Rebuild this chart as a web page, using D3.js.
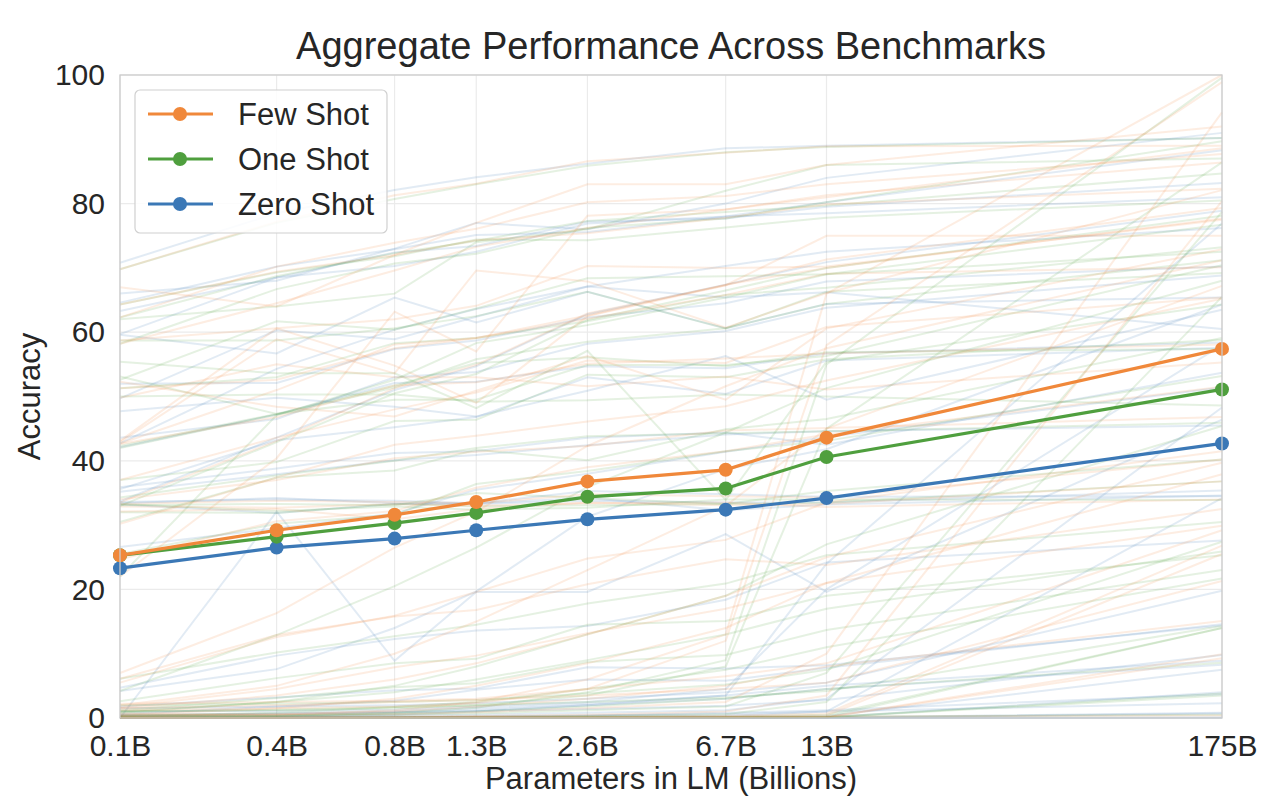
<!DOCTYPE html>
<html>
<head>
<meta charset="utf-8">
<script src="https://cdn.jsdelivr.net/npm/d3@7"></script>
<style>
 body { margin:0; background:#fff; }
 svg text { font-family: "Liberation Sans", Arial, sans-serif; fill:#262626; }
</style>
</head>
<body>
<div id="chart"></div>
<script>
// model sizes (billions) and their tick labels
var paramsB = [0.125, 0.35, 0.76, 1.3, 2.7, 6.7, 13, 175];
var tickLabels = ["0.1B","0.4B","0.8B","1.3B","2.6B","6.7B","13B","175B"];
var yTicks = [0, 20, 40, 60, 80, 100];

// aggregate lines
var fewShotAvg  = [25.3, 29.2, 31.6, 33.6, 36.8, 38.6, 43.6, 57.4];
var oneShotAvg  = [25.3, 28.2, 30.3, 31.9, 34.4, 35.7, 40.6, 51.1];
var zeroShotAvg = [23.3, 26.5, 27.9, 29.2, 30.9, 32.4, 34.2, 42.7];

// per benchmark lines (faint)
var zeroShotTasks = [
 [33.7,43.6,51.0,54.7,62.8,67.4,70.9,78.9],
 [42.7,54.3,60.4,63.6,67.1,70.3,72.5,76.2],
 [63.3,68.5,72.4,73.4,77.2,77.7,79.5,83.2],
 [0.6,1.8,2.7,4.4,6.0,5.8,7.8,14.6],
 [1.8,3.2,4.3,4.6,7.9,7.7,8.2,14.4],
 [4.2,7.6,14.0,19.7,31.3,38.7,41.8,64.3],
 [64.6,70.2,72.9,75.1,75.6,78.0,78.5,81.0],
 [26.6,29.5,31.8,35.5,38.0,41.4,43.7,51.4],
 [43.6,46.5,53.0,53.8,58.2,60.2,63.8,68.8],
 [35.6,43.2,45.2,46.8,53.0,50.4,55.6,57.6],
 [59.7,68.5,70.3,72.5,76.9,78.0,80.2,88.3],
 [52.0,52.1,57.4,58.7,62.3,64.5,67.9,70.2],
 [35.2,37.9,40.1,40.9,42.4,44.1,44.6,45.5],
 [42.1,47.2,52.1,52.3,54.7,54.4,56.7,58.4],
 [49.7,60.3,58.9,62.4,67.1,65.4,66.2,60.5],
 [0.0,32.1,8.9,19.6,19.6,28.6,19.6,46.4],
 [66.0,68.0,73.0,77.0,76.0,80.0,84.0,91.0],
 [47.7,49.8,48.4,46.9,50.9,56.3,49.5,63.5],
 [0.0,0.0,0.0,0.0,0.0,0.0,0.0,0.0],
 [59.6,56.7,65.4,61.5,66.3,60.6,64.4,65.4],
 [4.7,9.7,12.3,13.6,14.3,18.4,24.2,27.6],
 [70.8,78.5,82.1,84.1,86.2,88.6,89.0,90.2],
 [33.4,34.2,33.4,33.4,34.2,32.3,33.2,34.6],
 [33.2,31.9,33.3,33.3,33.8,33.5,33.5,35.4],
 [33.6,34.0,33.8,33.4,35.3,34.8,34.4,34.5],
 [0.3,0.2,0.5,1.0,2.0,3.5,24.0,76.9],
 [1.0,1.1,1.3,1.8,2.5,4.5,20.0,58.0],
 [0.0,0.0,0.1,0.1,0.2,0.3,1.0,34.2],
 [0.2,0.3,0.4,0.5,0.8,1.2,3.0,48.3],
 [0.0,0.0,0.0,0.0,0.0,0.1,0.1,4.0],
 [0.0,0.1,0.1,0.1,0.1,0.2,0.3,7.5],
 [0.0,0.0,0.0,0.0,0.0,0.0,0.0,0.7],
 [0.0,0.0,0.0,0.0,0.0,0.0,0.1,0.8],
 [1.5,1.8,2.0,2.3,3.0,4.0,5.5,19.8],
 [0.5,0.7,0.9,1.1,1.4,1.9,2.8,9.8],
 [0.0,0.0,0.1,0.2,0.4,0.8,1.2,3.7],
 [0.0,0.1,0.1,0.2,0.4,0.6,1.0,2.3],
 [0.3,0.7,1.0,1.5,2.2,3.5,5.0,8.9],
 [0.2,0.4,0.8,1.2,2.0,3.0,4.5,8.3],
 [0.0,0.0,0.0,0.0,0.0,0.0,0.0,0.1],
 [35.9,38.8,41.2,41.5,43.6,44.4,42.5,53.7]
];
var oneShotTasks = [
 [33.0,42.9,50.5,53.5,61.9,66.5,70.0,78.1],
 [22.0,47.1,52.6,58.3,61.1,65.4,69.0,72.5],
 [62.3,68.7,72.3,74.2,77.3,78.7,79.7,84.7],
 [1.2,3.1,4.8,5.4,8.7,9.8,13.7,23.0],
 [2.6,6.2,8.5,9.2,14.5,15.1,19.0,25.3],
 [4.2,12.9,20.5,26.5,35.9,44.4,51.3,68.0],
 [64.3,69.3,71.8,74.4,74.3,76.3,77.8,80.5],
 [25.5,30.2,31.6,36.4,38.4,41.5,43.1,53.2],
 [42.0,47.2,51.4,55.8,58.5,60.6,64.4,71.2],
 [37.0,39.8,46.2,46.4,53.4,53.0,55.8,58.8],
 [58.2,66.7,70.7,72.2,76.2,77.7,80.2,89.7],
 [51.3,53.0,58.3,59.1,61.7,65.8,66.9,73.2],
 [34.3,37.7,40.0,42.0,43.8,44.3,44.6,45.9],
 [42.3,47.3,51.7,55.2,56.1,54.7,56.9,57.4],
 [52.6,61.7,60.4,63.7,68.4,68.7,69.0,76.7],
 [55.4,53.6,53.6,48.2,57.1,33.9,55.4,64.3],
 [62.0,64.0,66.0,74.0,76.0,82.0,86.0,87.0],
 [53.1,47.3,49.5,49.5,54.9,54.9,56.3,70.4],
 [50.0,50.3,50.3,49.2,49.4,50.3,50.0,48.6],
 [58.7,58.7,60.6,62.5,66.3,60.6,66.3,69.2],
 [6.1,10.2,12.7,14.5,17.8,20.9,25.3,30.5],
 [69.8,77.0,80.7,83.0,85.9,88.0,88.8,90.2],
 [32.0,31.9,33.3,32.9,33.1,33.3,33.5,36.8],
 [33.3,32.2,32.9,32.4,32.7,34.0,34.0,33.9],
 [33.1,33.3,33.1,35.0,34.2,33.3,35.3,40.2],
 [0.5,0.3,0.8,1.6,4.0,9.0,55.0,99.6],
 [1.0,1.2,1.5,2.0,3.5,8.0,45.0,86.4],
 [0.1,0.1,0.1,0.2,0.3,0.6,2.5,65.5],
 [0.3,0.4,0.5,0.7,1.2,1.8,7.0,78.7],
 [0.0,0.0,0.0,0.0,0.1,0.1,0.2,14.0],
 [0.1,0.1,0.1,0.1,0.2,0.2,0.5,14.0],
 [0.0,0.0,0.0,0.0,0.0,0.0,0.1,3.5],
 [0.0,0.0,0.0,0.0,0.0,0.1,0.1,3.8],
 [2.0,2.2,2.5,2.8,3.8,5.2,7.5,27.4],
 [1.0,1.3,1.7,2.0,2.5,3.2,4.2,14.3],
 [0.3,0.8,1.7,2.5,4.5,7.5,11.0,21.7],
 [0.1,0.4,0.7,1.0,1.8,3.0,4.5,8.6],
 [1.0,2.5,4.0,6.0,9.0,13.0,17.0,25.9],
 [0.8,2.5,5.0,8.0,13.0,19.0,27.0,45.4],
 [0.0,0.0,0.0,0.1,0.1,0.1,0.2,0.5],
 [30.5,37.4,38.5,41.7,40.1,44.9,46.5,59.1]
];
var fewShotTasks = [
 [33.5,43.1,51.3,54.9,62.9,67.3,71.3,79.3],
 [22.0,40.4,63.2,57.0,78.1,79.1,81.3,86.4],
 [62.3,70.2,73.9,76.1,80.2,81.2,83.0,87.7],
 [1.7,4.5,7.9,9.7,13.2,17.0,21.0,29.9],
 [5.5,12.6,15.9,19.6,24.8,27.7,33.5,41.5],
 [7.0,16.3,26.5,32.1,42.3,51.6,57.5,71.2],
 [64.3,69.4,72.0,74.3,75.4,77.8,79.9,82.3],
 [24.7,30.6,32.2,35.8,39.0,41.5,44.1,51.5],
 [42.7,51.0,58.1,59.1,62.1,65.8,69.1,70.1],
 [37.0,43.6,48.0,50.6,55.6,55.2,60.8,65.4],
 [58.2,64.5,69.6,73.3,76.2,79.1,81.0,88.6],
 [51.3,52.6,57.5,59.1,62.6,67.4,70.0,77.7],
 [34.0,37.0,40.4,41.4,42.3,44.7,45.1,46.8],
 [42.6,46.8,51.7,52.2,55.1,55.9,56.7,58.1],
 [43.1,60.6,62.0,64.1,70.3,70.0,70.2,77.5],
 [42.9,58.9,53.6,69.6,67.9,60.7,66.1,82.1],
 [67.0,64.0,72.0,77.0,83.0,83.0,86.0,92.0],
 [52.3,48.4,46.9,50.9,56.3,49.5,60.6,72.9],
 [49.8,55.0,53.0,53.0,51.6,53.1,51.1,55.3],
 [58.7,60.6,54.8,49.0,62.5,67.3,75.0,75.0],
 [6.1,12.9,15.8,16.8,20.8,24.7,23.8,32.5],
 [69.8,77.2,81.3,83.1,86.6,87.9,88.9,89.0],
 [32.1,32.5,30.9,32.5,33.5,33.1,33.3,36.8],
 [32.9,32.7,33.3,33.0,33.4,33.5,32.8,34.0],
 [33.3,33.8,33.6,33.4,34.8,34.5,34.3,40.2],
 [0.7,0.5,1.2,2.5,6.0,13.0,66.0,100.0],
 [1.2,1.5,1.8,2.3,4.5,12.0,58.0,98.9],
 [0.1,0.1,0.2,0.3,0.5,1.0,3.5,80.4],
 [0.4,0.5,0.6,0.9,1.5,2.5,10.0,94.2],
 [0.0,0.0,0.0,0.1,0.1,0.1,0.4,25.5],
 [0.1,0.1,0.1,0.2,0.2,0.3,0.7,26.8],
 [0.0,0.0,0.0,0.0,0.0,0.0,0.1,9.3],
 [0.0,0.0,0.0,0.0,0.0,0.1,0.1,9.9],
 [2.2,2.5,2.7,3.0,4.5,6.5,8.5,29.2],
 [1.5,2.0,2.5,2.8,3.5,4.5,5.5,21.3],
 [0.5,1.5,3.0,5.0,8.5,14.0,21.0,37.9],
 [0.3,0.6,1.0,1.8,3.0,5.0,8.0,15.1],
 [1.5,3.5,6.0,8.5,13.0,19.0,25.0,39.7],
 [2.0,5.0,10.0,15.0,23.0,33.0,45.0,67.2],
 [0.0,0.0,0.1,0.1,0.1,0.2,0.2,0.4],
 [30.2,37.4,42.5,43.9,46.1,48.5,52.5,65.2]
];

var colors = { few:"#f0883a", one:"#4f9f3e", zero:"#3b78b6" };

var W = 1280, H = 804;
var margin = {left:120, right:58, top:75, bottom:86};

var svg = d3.select("#chart").append("svg")
   .attr("width", W).attr("height", H);

var x = d3.scaleLog().domain([paramsB[0], paramsB[paramsB.length-1]])
   .range([margin.left, W - margin.right]);
var y = d3.scaleLinear().domain([0, 100]).range([H - margin.bottom, margin.top]);

// grid
svg.append("g").selectAll("line.vg").data(paramsB).enter().append("line")
   .attr("x1", d => x(d)).attr("x2", d => x(d))
   .attr("y1", y(0)).attr("y2", y(100))
   .attr("stroke", "#ebebeb").attr("stroke-width", 1.2);
svg.append("g").selectAll("line.hg").data(yTicks).enter().append("line")
   .attr("x1", x.range()[0]).attr("x2", x.range()[1])
   .attr("y1", d => y(d)).attr("y2", d => y(d))
   .attr("stroke", "#ebebeb").attr("stroke-width", 1.2);

var line = d3.line().x((d, i) => x(paramsB[i])).y(d => y(d));

var plot = svg.append("g");
function faint(tasks, c){
  plot.append("g").selectAll("path").data(tasks).enter().append("path")
    .attr("d", line).attr("fill", "none")
    .attr("stroke", c).attr("stroke-opacity", 0.15).attr("stroke-width", 2);
}
faint(zeroShotTasks, colors.zero);
faint(oneShotTasks, colors.one);
faint(fewShotTasks, colors.few);

// frame
svg.append("rect").attr("x", x.range()[0]).attr("y", y(100))
   .attr("width", x.range()[1] - x.range()[0]).attr("height", y(0) - y(100))
   .attr("fill", "none").attr("stroke", "#cccccc").attr("stroke-width", 1.3);

var series = [
  {name:"Zero Shot", vals: zeroShotAvg, c: colors.zero},
  {name:"One Shot",  vals: oneShotAvg,  c: colors.one},
  {name:"Few Shot",  vals: fewShotAvg,  c: colors.few}
];
series.forEach(function(s){
  plot.append("path").datum(s.vals).attr("d", line).attr("fill", "none")
    .attr("stroke", s.c).attr("stroke-width", 3.2);
  plot.append("g").selectAll("circle").data(s.vals).enter().append("circle")
    .attr("cx", (d, i) => x(paramsB[i])).attr("cy", d => y(d))
    .attr("r", 7).attr("fill", s.c);
});

// axes
var xAxis = d3.axisBottom(x).tickValues(paramsB)
   .tickFormat((d, i) => tickLabels[i]).tickSize(0).tickPadding(17);
var gx = svg.append("g").attr("transform", "translate(0," + y(0) + ")").call(xAxis);
gx.select(".domain").remove();
gx.selectAll("text").style("font-size", "30px").attr("fill", "#262626");

var yAxis = d3.axisLeft(y).tickValues(yTicks).tickSize(0).tickPadding(15);
var gy = svg.append("g").attr("transform", "translate(" + margin.left + ",0)").call(yAxis);
gy.select(".domain").remove();
gy.selectAll("text").style("font-size", "30px").attr("fill", "#262626");

svg.append("text").attr("x", (x.range()[0] + x.range()[1]) / 2).attr("y", 59)
   .attr("text-anchor", "middle").style("font-size", "38px")
   .text("Aggregate Performance Across Benchmarks");
svg.append("text").attr("x", (x.range()[0] + x.range()[1]) / 2).attr("y", 789)
   .attr("text-anchor", "middle").style("font-size", "31px")
   .text("Parameters in LM (Billions)");
svg.append("text").attr("transform", "translate(40," + ((y(0) + y(100)) / 2) + ") rotate(-90)")
   .attr("text-anchor", "middle").style("font-size", "31px")
   .text("Accuracy");

// legend
var lg = svg.append("g").attr("transform", "translate(135,90)");
lg.append("rect").attr("width", 252).attr("height", 143).attr("rx", 5)
   .attr("fill", "#fff").attr("fill-opacity", 0.85)
   .attr("stroke", "#d0d0d0").attr("stroke-width", 1.2);
var legendItems = [series[2], series[1], series[0]];
legendItems.forEach(function(s, i){
  var ly = 24 + i * 45;
  lg.append("line").attr("x1", 13).attr("x2", 78).attr("y1", ly).attr("y2", ly)
    .attr("stroke", s.c).attr("stroke-width", 3.2);
  lg.append("circle").attr("cx", 45).attr("cy", ly).attr("r", 7).attr("fill", s.c);
  lg.append("text").attr("x", 103).attr("y", ly + 11).style("font-size", "31px").text(s.name);
});
</script>
</body>
</html>
